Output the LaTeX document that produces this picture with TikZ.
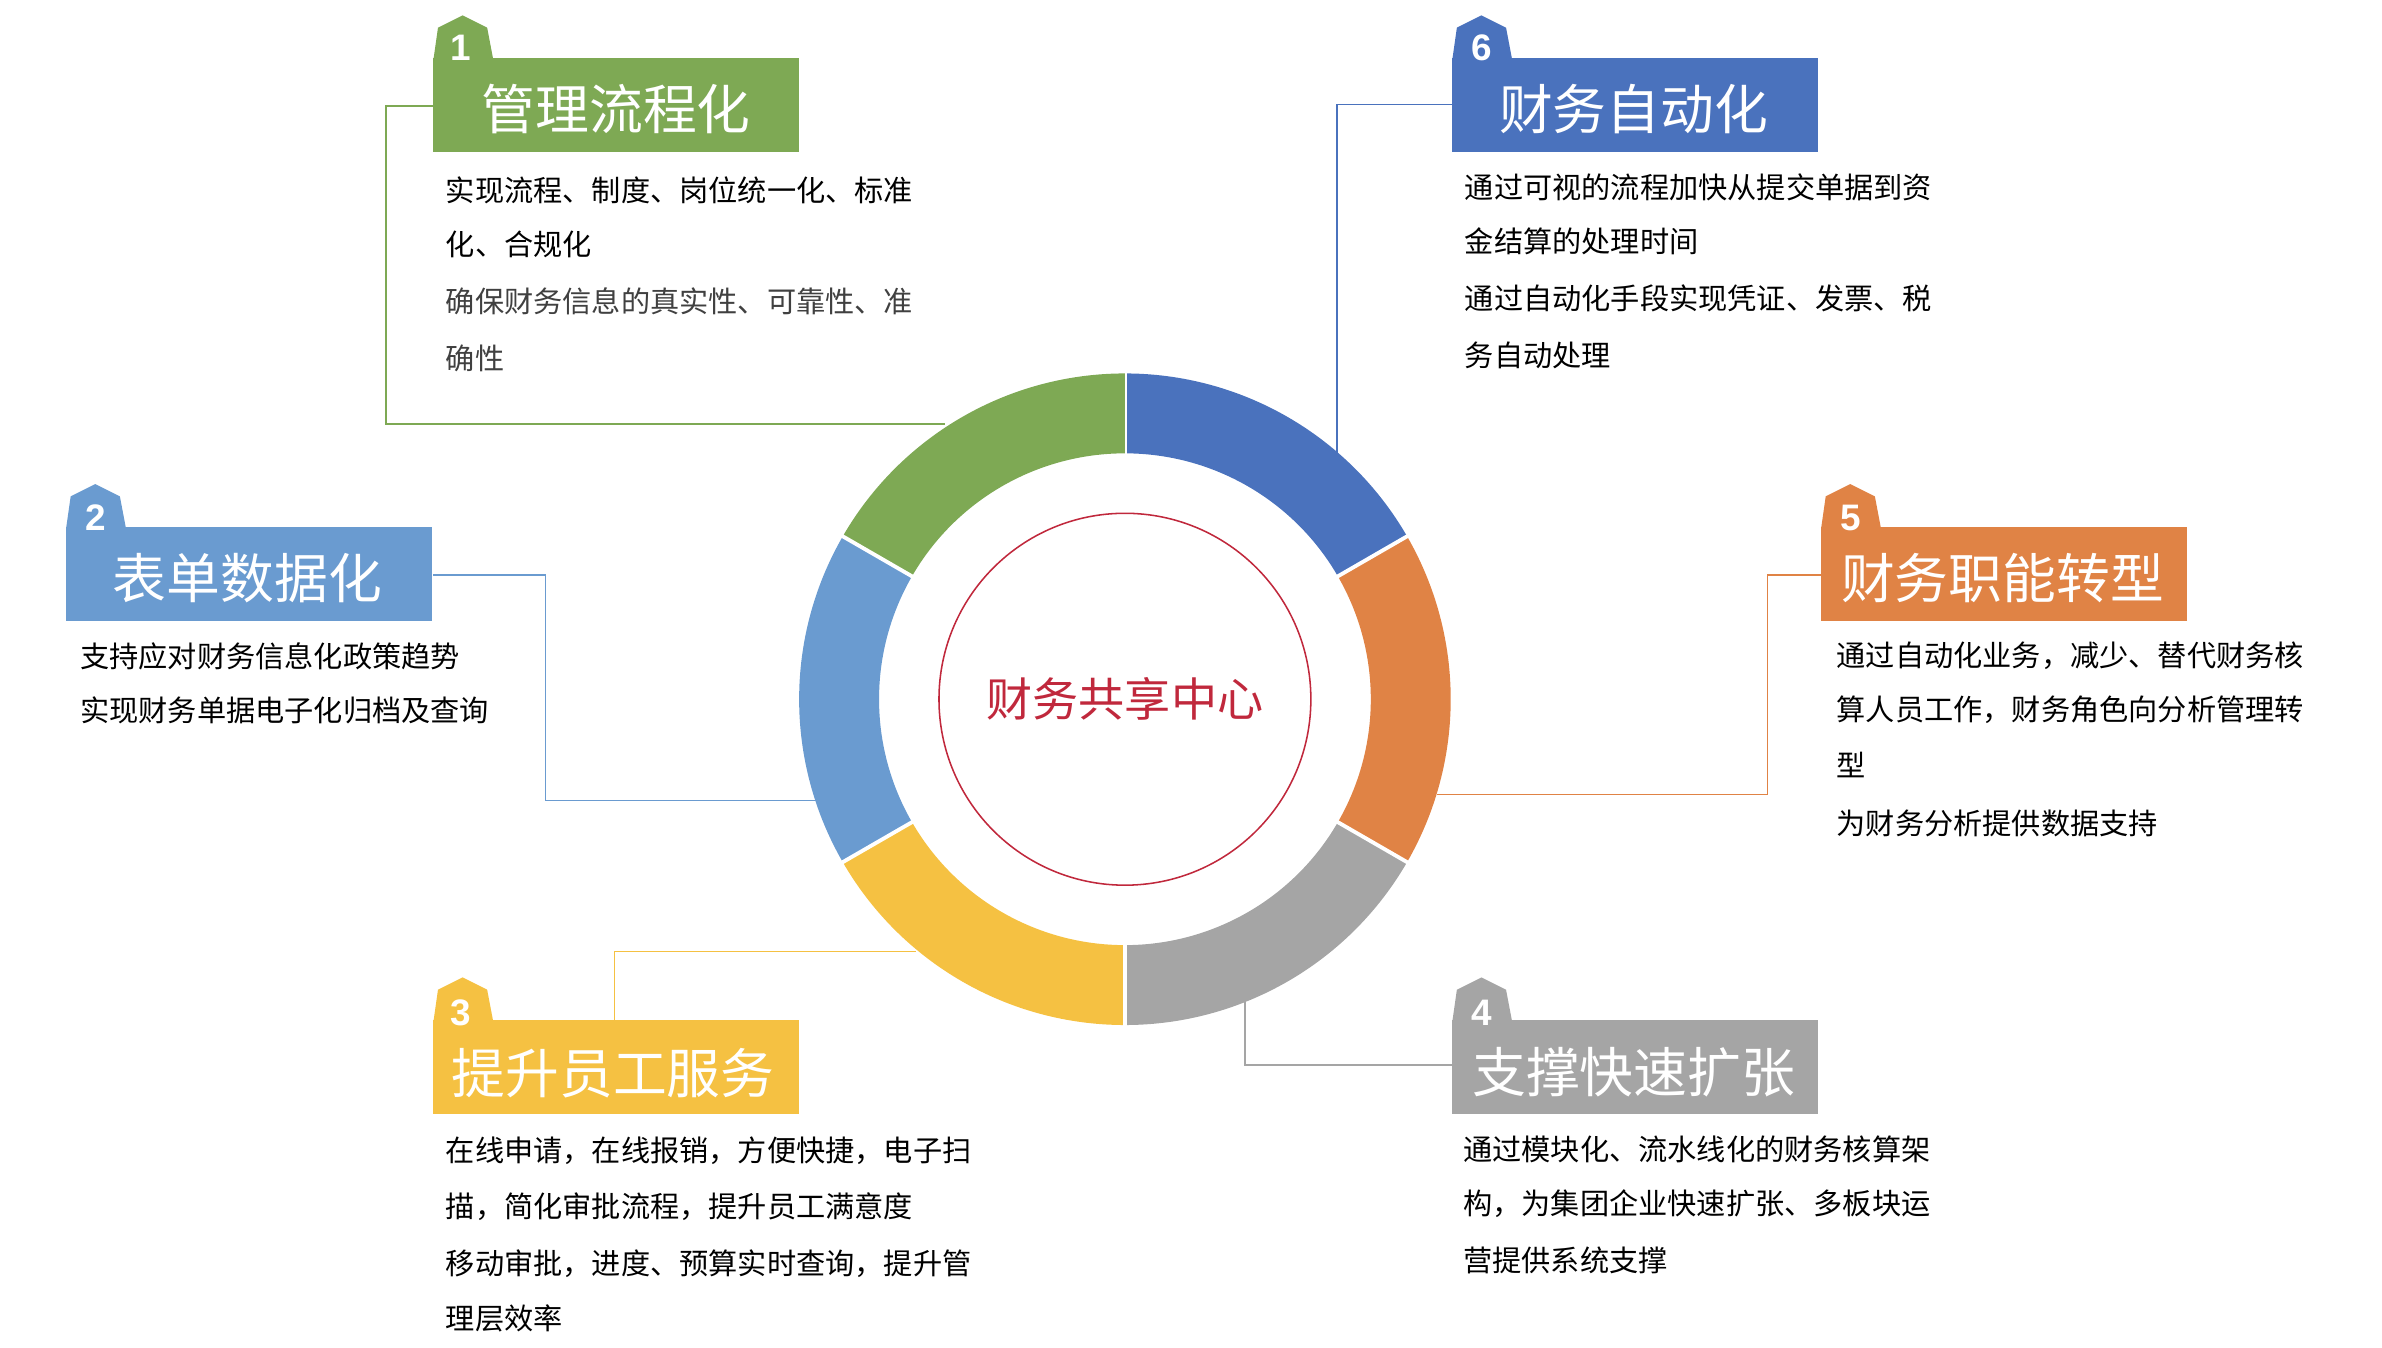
\documentclass[tikz,border=0pt]{standalone}
\usepackage{fontspec}
\usetikzlibrary{calc}
\newfontfamily\cjk{Noto Sans CJK SC}
\setsansfont{Liberation Sans}
\begin{document}
\begin{tikzpicture}[x=1pt,y=-1pt]
\definecolor{cgreen}{HTML}{7EA954}
\definecolor{cblue}{HTML}{4A72BD}
\definecolor{clblue}{HTML}{6A9BD0}
\definecolor{corange}{HTML}{E08345}
\definecolor{cyellow}{HTML}{F5C142}
\definecolor{cgray}{HTML}{A5A5A5}
\definecolor{cred}{HTML}{C0283C}
\definecolor{tgray}{HTML}{404040}
\tikzset{body/.style={anchor=west,font=\cjk\fontsize{19}{19}\selectfont,inner sep=0pt},
 ttl/.style={font=\cjk\fontsize{35}{35}\selectfont,text=white,inner sep=0pt},
 num/.style={font=\sffamily\bfseries\fontsize{24}{24}\selectfont,text=white,inner sep=0pt},
 conn/.style={line width=1pt}}
\useasboundingbox (0,0) rectangle (1550,877);
\newcommand{\tabbox}[4]{% x0, y0(rect top), color, name
 \fill[#3] (#1,#2+1) -- (#1+3,#2-20) -- (#1+19,#2-28) -- (#1+35,#2-20) -- (#1+39,#2+1) -- cycle;
 \fill[#3] (#1,#2) rectangle (#1+238,#2+61);
 \coordinate (#4) at (#1,#2);}
% connectors
\coordinate (c) at (732,455);
\coordinate (g1) at (615,276); \coordinate (b1) at (870,295);
\coordinate (l1) at (531,521); \coordinate (o1) at (935,517);
\coordinate (y1) at (596,619); \coordinate (r1) at (810,650);
\coordinate (g0) at (282,69); \coordinate (b0) at (945,68);
\coordinate (l0) at (282,374); \coordinate (o0) at (1185,374);
\coordinate (y0) at (400,664); \coordinate (r0) at (945,693);
\draw[conn,cgreen] (g0) -- ++(-31,0) |- (g1);
\draw[conn,cblue] (b0) -| (b1);
\draw[conn,clblue] (l0) -- ++(73,0) |- (l1);
\draw[conn,corange] (o0) -- ++(-35,0) |- (o1);
\draw[conn,cyellow] (y0) |- (y1);
\draw[conn,cgray] (r1) |- (r0);
% ring (angles mirrored because y is flipped)
\foreach \a/\b/\col in {-90/-30/cblue,-30/30/corange,30/90/cgray,90/150/cyellow,150/210/clblue,210/270/cgreen}{
 \fill[\col] ($(c)+(\a:212)$) arc[start angle=\a,end angle=\b,radius=212] -- ($(c)+(\b:160)$) arc[start angle=\b,end angle=\a,radius=160] -- cycle;
 \draw[white,line width=2.5pt] ($(c)+(\a:158)$) -- ($(c)+(\a:214)$);}
\draw[cred,line width=1pt] (c) circle[radius=121];
\node[font=\cjk\fontsize{30}{30}\selectfont,text=cred] (center) at (c) {财务共享中心};
% tabs
\tabbox{282}{38}{cgreen}{t1}
\node[num] at (300,31) {1}; \node[ttl] at (401,71) {管理流程化};
\tabbox{945}{38}{cblue}{t6}
\node[num] at (964,31) {6}; \node[ttl] at (1063,71) {财务自动化};
\tabbox{43}{343}{clblue}{t2}
\node[num] at (62,337) {2}; \node[ttl] at (161,376) {表单数据化};
\tabbox{1185}{343}{corange}{t5}
\node[num] at (1204,337) {5}; \node[ttl] at (1303,376) {财务职能转型};
\tabbox{282}{664}{cyellow}{t3}
\node[num] at (300,659) {3}; \node[ttl] at (399,698) {提升员工服务};
\tabbox{945}{664}{cgray}{t4}
\node[num] at (964,659) {4}; \node[ttl] at (1063,698) {支撑快速扩张};
% texts
\node[body] (a1) at (290,124) {实现流程、制度、岗位统一化、标准};
\node[body] (a2) at (290,159) {化、合规化};
\node[body,text=tgray] (a3) at (290,196) {确保财务信息的真实性、可靠性、准};
\node[body,text=tgray] (a4) at (290,233) {确性};
\node[body] (f1) at (953,122) {通过可视的流程加快从提交单据到资};
\node[body] (f2) at (953,157) {金结算的处理时间};
\node[body] (f3) at (953,194) {通过自动化手段实现凭证、发票、税};
\node[body] (f4) at (953,231) {务自动处理};
\node[body] (s1) at (52,427) {支持应对财务信息化政策趋势};
\node[body] (s2) at (52,462) {实现财务单据电子化归档及查询};
\node[body] (e1) at (1195,427) {通过自动化业务，减少、替代财务核};
\node[body] (e2) at (1195,462) {算人员工作，财务角色向分析管理转};
\node[body] (e3) at (1195,498) {型};
\node[body] (e4) at (1195,536) {为财务分析提供数据支持};
\node[body] (h1) at (290,749) {在线申请，在线报销，方便快捷，电子扫};
\node[body] (h2) at (290,785) {描，简化审批流程，提升员工满意度};
\node[body] (h3) at (290,822) {移动审批，进度、预算实时查询，提升管};
\node[body] (h4) at (290,858) {理层效率};
\node[body] (d1) at (952,748) {通过模块化、流水线化的财务核算架};
\node[body] (d2) at (952,783) {构，为集团企业快速扩张、多板块运};
\node[body] (d3) at (952,820) {营提供系统支撑};
\end{tikzpicture}
\end{document}
